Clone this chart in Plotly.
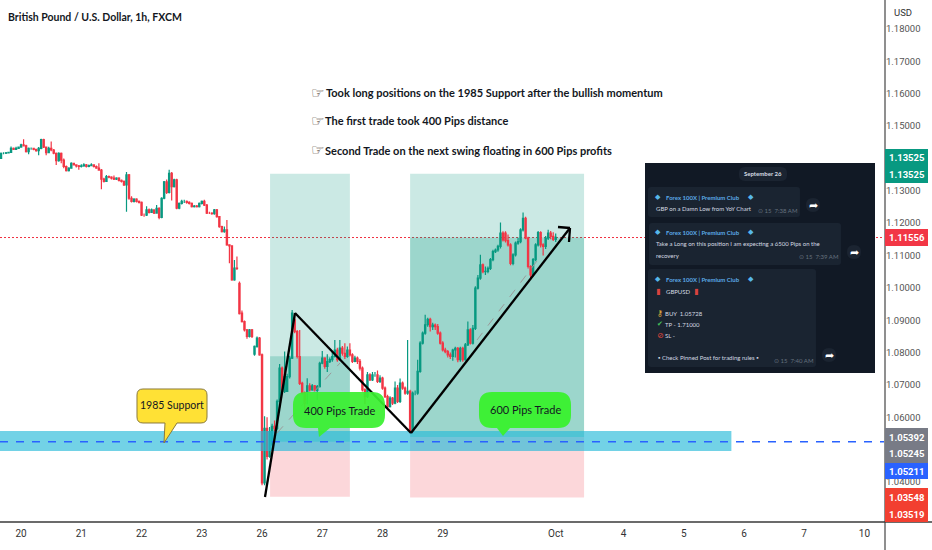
import plotly.graph_objects as go

# hourly bars, 0 = midnight of the 20th
bar_index = list(range(-8, 214))

opens = [
    1.1400, 1.1416, 1.1416, 1.1417, 1.1419, 1.1431, 1.1428, 1.1431, 1.1435, 1.1442,
    1.1439, 1.1421, 1.1431, 1.1431, 1.1428, 1.1424, 1.1431, 1.1458, 1.1435, 1.1418,
    1.1431, 1.1426, 1.1416, 1.1393, 1.1416, 1.1395, 1.1375, 1.1362, 1.1370, 1.1385,
    1.1380, 1.1377, 1.1375, 1.1377, 1.1380, 1.1375, 1.1378, 1.1380, 1.1375, 1.1370,
    1.1364, 1.1336, 1.1329, 1.1344, 1.1342, 1.1339, 1.1336, 1.1339, 1.1332, 1.1329,
    1.1318, 1.1349, 1.1277, 1.1267, 1.1274, 1.1267, 1.1264, 1.1225, 1.1225, 1.1241,
    1.1233, 1.1241, 1.1231, 1.1246, 1.1218, 1.1277, 1.1328, 1.1295, 1.1354, 1.1313,
    1.1334, 1.1246, 1.1261, 1.1267, 1.1267, 1.1264, 1.1261, 1.1251, 1.1253, 1.1251,
    1.1261, 1.1267, 1.1256, 1.1231, 1.1231, 1.1229, 1.1241, 1.1220, 1.1189, 1.1174,
    1.1179, 1.1133, 1.1130, 1.1025, 1.1061, 1.1014, 1.0922, 1.0896, 1.0870, 1.0850,
    1.0870, 1.0795, 1.0819, 1.0845, 1.0793, 1.0397, 1.0566, 1.0479, 1.0515, 1.0572,
    1.0566, 1.0649, 1.0752, 1.0680, 1.0680, 1.0726, 1.0783, 1.0901, 1.0865, 1.0788,
    1.0705, 1.0675, 1.0680, 1.0697, 1.0685, 1.0697, 1.0683, 1.0695, 1.0767, 1.0783,
    1.0757, 1.0772, 1.0778, 1.0788, 1.0808, 1.0778, 1.0814, 1.0798, 1.0788, 1.0808,
    1.0793, 1.0773, 1.0783, 1.0773, 1.0752, 1.0685, 1.0664, 1.0731, 1.0716, 1.0731,
    1.0731, 1.0711, 1.0721, 1.0690, 1.0664, 1.0633, 1.0659, 1.0644, 1.0690, 1.0649,
    1.0706, 1.0690, 1.0675, 1.0680, 1.0560, 1.0675, 1.0675, 1.0742, 1.0829, 1.0860,
    1.0886, 1.0903, 1.0880, 1.0885, 1.0880, 1.0860, 1.0829, 1.0808, 1.0803, 1.0793,
    1.0788, 1.0808, 1.0813, 1.0778, 1.0813, 1.0778, 1.0824, 1.0870, 1.0829, 1.0875,
    1.0999, 1.1030, 1.1071, 1.1050, 1.1051, 1.1060, 1.1087, 1.1112, 1.1117, 1.1128,
    1.1169, 1.1169, 1.1146, 1.1133, 1.1076, 1.1102, 1.1138, 1.1143, 1.1179, 1.1215,
    1.1154, 1.1066, 1.1040, 1.1087, 1.1133, 1.1171, 1.1133, 1.1128, 1.1154, 1.1169,
    1.1159, 1.1150,
]
highs = [
    1.1418, 1.1419, 1.1420, 1.1421, 1.1437, 1.1434, 1.1436, 1.1437, 1.1445, 1.1459,
    1.1442, 1.1434, 1.1434, 1.1432, 1.1430, 1.1435, 1.1461, 1.1461, 1.1437, 1.1436,
    1.1452, 1.1429, 1.1418, 1.1419, 1.1418, 1.1400, 1.1378, 1.1373, 1.1388, 1.1387,
    1.1382, 1.1380, 1.1382, 1.1385, 1.1383, 1.1381, 1.1385, 1.1382, 1.1378, 1.1385,
    1.1367, 1.1340, 1.1349, 1.1347, 1.1345, 1.1347, 1.1342, 1.1342, 1.1335, 1.1332,
    1.1358, 1.1352, 1.1283, 1.1277, 1.1277, 1.1270, 1.1267, 1.1230, 1.1252, 1.1245,
    1.1245, 1.1243, 1.1256, 1.1249, 1.1280, 1.1330, 1.1335, 1.1365, 1.1358, 1.1337,
    1.1337, 1.1264, 1.1272, 1.1272, 1.1270, 1.1268, 1.1264, 1.1256, 1.1256, 1.1264,
    1.1270, 1.1272, 1.1259, 1.1235, 1.1234, 1.1244, 1.1244, 1.1222, 1.1192, 1.1190,
    1.1210, 1.1135, 1.1132, 1.1086, 1.1097, 1.1020, 1.0930, 1.0899, 1.0873, 1.0873,
    1.0873, 1.0822, 1.0850, 1.0848, 1.0797, 1.0603, 1.0600, 1.0570, 1.0580, 1.0590,
    1.0655, 1.0765, 1.0757, 1.0803, 1.0735, 1.0790, 1.0932, 1.0915, 1.0870, 1.0870,
    1.0710, 1.0680, 1.0721, 1.0705, 1.0703, 1.0700, 1.0700, 1.0772, 1.0805, 1.0786,
    1.0795, 1.0785, 1.0805, 1.0839, 1.0815, 1.0839, 1.0820, 1.0829, 1.0819, 1.0829,
    1.0798, 1.0790, 1.0788, 1.0780, 1.0757, 1.0690, 1.0740, 1.0736, 1.0740, 1.0740,
    1.0745, 1.0730, 1.0725, 1.0695, 1.0670, 1.0665, 1.0663, 1.0711, 1.0700, 1.0720,
    1.0711, 1.0695, 1.0839, 1.0685, 1.0680, 1.0683, 1.0778, 1.0835, 1.0865, 1.0917,
    1.0908, 1.0908, 1.0892, 1.0890, 1.0888, 1.0865, 1.0835, 1.0815, 1.0808, 1.0800,
    1.0812, 1.0818, 1.0817, 1.0818, 1.0818, 1.0830, 1.0896, 1.0875, 1.0885, 1.1005,
    1.1040, 1.1102, 1.1075, 1.1066, 1.1066, 1.1092, 1.1118, 1.1122, 1.1133, 1.1202,
    1.1175, 1.1175, 1.1165, 1.1138, 1.1107, 1.1143, 1.1155, 1.1184, 1.1233, 1.1220,
    1.1158, 1.1070, 1.1092, 1.1138, 1.1176, 1.1175, 1.1138, 1.1160, 1.1180, 1.1176,
    1.1172, 1.1168,
]
lows = [
    1.1398, 1.1413, 1.1414, 1.1415, 1.1418, 1.1426, 1.1426, 1.1429, 1.1433, 1.1437,
    1.1418, 1.1413, 1.1427, 1.1425, 1.1421, 1.1410, 1.1428, 1.1432, 1.1410, 1.1416,
    1.1422, 1.1413, 1.1380, 1.1390, 1.1385, 1.1370, 1.1360, 1.1360, 1.1368, 1.1378,
    1.1372, 1.1365, 1.1372, 1.1374, 1.1372, 1.1373, 1.1376, 1.1372, 1.1368, 1.1362,
    1.1305, 1.1326, 1.1327, 1.1339, 1.1335, 1.1333, 1.1333, 1.1329, 1.1326, 1.1315,
    1.1235, 1.1272, 1.1264, 1.1264, 1.1264, 1.1261, 1.1222, 1.1220, 1.1222, 1.1230,
    1.1231, 1.1228, 1.1229, 1.1212, 1.1215, 1.1274, 1.1290, 1.1292, 1.1270, 1.1310,
    1.1243, 1.1243, 1.1258, 1.1262, 1.1260, 1.1258, 1.1248, 1.1248, 1.1248, 1.1248,
    1.1258, 1.1253, 1.1228, 1.1228, 1.1226, 1.1226, 1.1217, 1.1186, 1.1171, 1.1170,
    1.1130, 1.1076, 1.1022, 1.1022, 1.1055, 1.0918, 1.0893, 1.0865, 1.0843, 1.0847,
    1.0845, 1.0790, 1.0815, 1.0790, 1.0390, 1.0390, 1.0470, 1.0475, 1.0495, 1.0550,
    1.0560, 1.0645, 1.0675, 1.0675, 1.0680, 1.0720, 1.0780, 1.0860, 1.0782, 1.0700,
    1.0670, 1.0620, 1.0640, 1.0680, 1.0682, 1.0680, 1.0654, 1.0692, 1.0764, 1.0750,
    1.0740, 1.0768, 1.0772, 1.0785, 1.0772, 1.0775, 1.0790, 1.0780, 1.0784, 1.0788,
    1.0768, 1.0770, 1.0765, 1.0745, 1.0680, 1.0640, 1.0660, 1.0712, 1.0712, 1.0725,
    1.0706, 1.0706, 1.0685, 1.0660, 1.0628, 1.0630, 1.0638, 1.0640, 1.0644, 1.0644,
    1.0685, 1.0670, 1.0670, 1.0552, 1.0555, 1.0668, 1.0670, 1.0738, 1.0825, 1.0855,
    1.0880, 1.0865, 1.0870, 1.0870, 1.0855, 1.0825, 1.0803, 1.0798, 1.0785, 1.0780,
    1.0775, 1.0785, 1.0770, 1.0772, 1.0772, 1.0775, 1.0820, 1.0825, 1.0825, 1.0870,
    1.0995, 1.1025, 1.1045, 1.1040, 1.1045, 1.1055, 1.1082, 1.1108, 1.1112, 1.1122,
    1.1143, 1.1140, 1.1128, 1.1070, 1.1070, 1.1097, 1.1133, 1.1138, 1.1174, 1.1150,
    1.1060, 1.1030, 1.1035, 1.1082, 1.1128, 1.1125, 1.1100, 1.1120, 1.1148, 1.1150,
    1.1145, 1.1142,
]
closes = [
    1.1416, 1.1416, 1.1417, 1.1419, 1.1431, 1.1428, 1.1431, 1.1435, 1.1442, 1.1439,
    1.1421, 1.1431, 1.1431, 1.1428, 1.1424, 1.1431, 1.1458, 1.1435, 1.1418, 1.1431,
    1.1426, 1.1416, 1.1393, 1.1416, 1.1395, 1.1375, 1.1362, 1.1370, 1.1385, 1.1380,
    1.1377, 1.1375, 1.1377, 1.1380, 1.1375, 1.1378, 1.1380, 1.1375, 1.1370, 1.1364,
    1.1336, 1.1329, 1.1344, 1.1342, 1.1339, 1.1336, 1.1339, 1.1332, 1.1329, 1.1318,
    1.1349, 1.1277, 1.1267, 1.1274, 1.1267, 1.1264, 1.1225, 1.1225, 1.1241, 1.1233,
    1.1241, 1.1231, 1.1246, 1.1218, 1.1277, 1.1328, 1.1295, 1.1354, 1.1313, 1.1334,
    1.1246, 1.1261, 1.1267, 1.1267, 1.1264, 1.1261, 1.1251, 1.1253, 1.1251, 1.1261,
    1.1267, 1.1256, 1.1231, 1.1231, 1.1229, 1.1241, 1.1220, 1.1189, 1.1174, 1.1179,
    1.1133, 1.1130, 1.1025, 1.1061, 1.1060, 1.0920, 1.0896, 1.0870, 1.0850, 1.0870,
    1.0850, 1.0819, 1.0845, 1.0793, 1.0397, 1.0566, 1.0479, 1.0556, 1.0572, 1.0566,
    1.0649, 1.0752, 1.0680, 1.0726, 1.0726, 1.0783, 1.0922, 1.0865, 1.0788, 1.0705,
    1.0675, 1.0644, 1.0697, 1.0685, 1.0697, 1.0683, 1.0695, 1.0767, 1.0783, 1.0757,
    1.0772, 1.0778, 1.0788, 1.0808, 1.0778, 1.0814, 1.0798, 1.0788, 1.0808, 1.0793,
    1.0773, 1.0783, 1.0773, 1.0752, 1.0685, 1.0664, 1.0731, 1.0716, 1.0731, 1.0731,
    1.0711, 1.0721, 1.0690, 1.0664, 1.0633, 1.0659, 1.0644, 1.0690, 1.0649, 1.0706,
    1.0690, 1.0675, 1.0680, 1.0560, 1.0675, 1.0675, 1.0742, 1.0829, 1.0860, 1.0886,
    1.0903, 1.0880, 1.0885, 1.0880, 1.0860, 1.0829, 1.0808, 1.0803, 1.0793, 1.0788,
    1.0808, 1.0813, 1.0778, 1.0813, 1.0778, 1.0824, 1.0870, 1.0829, 1.0875, 1.0999,
    1.1030, 1.1071, 1.1050, 1.1051, 1.1060, 1.1087, 1.1112, 1.1117, 1.1128, 1.1169,
    1.1148, 1.1146, 1.1133, 1.1076, 1.1102, 1.1138, 1.1143, 1.1179, 1.1215, 1.1154,
    1.1066, 1.1040, 1.1087, 1.1133, 1.1171, 1.1133, 1.1128, 1.1154, 1.1169, 1.1159,
    1.1150, 1.1156,
]

day_ticks = [0, 24, 48, 72, 96, 120, 144, 168, 213, 240, 264, 288, 312, 336]
day_labels = ['20', '21', '22', '23', '26', '27', '28', '29', 'Oct', '4', '5', '6', '7', '10']
price_ticks = [1.18, 1.17, 1.16, 1.15, 1.13, 1.12, 1.11, 1.10, 1.09, 1.08, 1.07, 1.06, 1.04]

last_price = 1.11556
support_price = 1.05245
band_low = 1.0496
band_high = 1.0558

notes = [
    'Took long positions on the 1985 Support after the bullish momentum',
    'The first trade took 400 Pips distance',
    'Second Trade on the next swing floating in 600 Pips profits',
]
badge_labels = ['1.13525', '1.13525', '1.11556', '1.05392', '1.05245', '1.05211', '1.03548', '1.03519']

GREEN = '#089981'
RED = '#f23645'
SANS = 'Lato'
SCALE = 'Roboto'
PLOT_W = 885
PLOT_H = 522


def fx(px):
    return px / PLOT_W


def fy(py):
    return 1 - py / PLOT_H


def paper_rect(x0, y0, x1, y1, fill, layer='above'):
    return dict(type='rect', xref='paper', yref='paper', x0=fx(x0), x1=fx(x1), y0=fy(y0), y1=fy(y1),
                fillcolor=fill, line_width=0, layer=layer)


def paper_line(x0, y0, x1, y1, color, width=1, dash='solid'):
    return dict(type='line', xref='paper', yref='paper', x0=fx(x0), x1=fx(x1), y0=fy(y0), y1=fy(y1),
                line=dict(color=color, width=width, dash=dash), layer='above')


def price_rect(x0, x1, y0, y1, fill, layer='below'):
    return dict(type='rect', xref='x', yref='y', x0=x0, x1=x1, y0=y0, y1=y1,
                fillcolor=fill, line_width=0, layer=layer)


def rounded(x0, y0, x1, y1, r, fill, pointer=None, border=None):
    # rounded box, optional pointer going out of the bottom edge
    def p(x, y):
        return f'{fx(x):.5f},{fy(y):.5f}'
    path = f'M {p(x0 + r, y0)} L {p(x1 - r, y0)} Q {p(x1, y0)} {p(x1, y0 + r)} L {p(x1, y1 - r)} Q {p(x1, y1)} {p(x1 - r, y1)} '
    if pointer:
        path += f'L {p(pointer[1], y1)} L {p(pointer[2], pointer[3])} L {p(pointer[0], y1)} '
    path += f'L {p(x0 + r, y1)} Q {p(x0, y1)} {p(x0, y1 - r)} L {p(x0, y0 + r)} Q {p(x0, y0)} {p(x0 + r, y0)} Z'
    return dict(type='path', xref='paper', yref='paper', path=path, fillcolor=fill,
                line=dict(color=border or fill, width=1 if border else 0), layer='above')


fig = go.Figure()

fig.add_trace(go.Candlestick(
    x=bar_index, open=opens, high=highs, low=lows, close=closes,
    increasing=dict(line=dict(color=GREEN, width=1.2), fillcolor=GREEN),
    decreasing=dict(line=dict(color=RED, width=1.2), fillcolor=RED),
    whiskerwidth=0, hoverinfo='skip', showlegend=False,
))

shapes = [
    # first long position
    price_rect(99.2, 131, 1.05245, 1.13525, 'rgba(8,153,129,0.21)'),
    price_rect(99.2, 131, 1.05245, 1.0789, 'rgba(8,153,129,0.24)'),
    price_rect(99.2, 131, 1.03548, 1.05245, 'rgba(242,54,69,0.2)'),
    # second long position
    price_rect(155, 224.3, 1.05392, 1.13525, 'rgba(8,153,129,0.21)'),
    price_rect(155, 224.3, 1.05392, last_price, 'rgba(8,153,129,0.24)'),
    price_rect(155, 224.3, 1.03519, 1.05392, 'rgba(242,54,69,0.2)'),
    # last price
    dict(type='line', xref='paper', yref='y', x0=0, x1=1, y0=last_price, y1=last_price,
         line=dict(color='#f0303f', width=1, dash='2px,2px'), layer='below'),
    # support zone
    price_rect(-8.4, 283, band_low, band_high, 'rgba(38,186,216,0.65)', layer='above'),
    dict(type='line', xref='paper', yref='y', x0=0, x1=1, y0=support_price, y1=support_price,
         line=dict(color='#2962ff', width=1.5, dash='8px,8px'), layer='above'),
    # hand drawn swing
    paper_line(277, 433, 340, 363, '#9a9a9a', 1, 'dash'),
    paper_line(477, 340, 543, 253, '#9a9a9a', 1, 'dash'),
    paper_line(265, 497, 295, 313, 'black', 2.3),
    paper_line(295, 313, 411, 433, 'black', 2.3),
    paper_line(411, 433, 570, 228, 'black', 2.3),
    paper_line(558, 227, 570, 228, 'black', 2.3),
    paper_line(570, 228, 569, 242, 'black', 2.3),
    # callouts
    rounded(137, 389, 207, 423, 6, '#ffe135', pointer=(165, 177, 164, 443), border='#8a7a3c'),
    rounded(293, 392, 385, 428, 13, 'rgba(58,240,48,0.93)', pointer=(318, 330, 319, 437)),
    rounded(479, 392, 571, 428, 13, 'rgba(58,240,48,0.96)', pointer=(497, 510, 503, 436)),
    # telegram panel
    paper_rect(645, 163, 875, 373, '#111925'),
    rounded(739, 167, 787, 181, 6, '#1b2431'),
    rounded(648, 187, 800, 217, 3, '#1a2431'),
    rounded(649, 223, 841, 265, 3, '#1a2431'),
    rounded(648, 269, 816, 367, 3, '#1a2431'),
    rounded(806, 198, 820, 212, 7, '#1b2431'),
    rounded(847, 245, 861, 259, 7, '#1b2431'),
    rounded(822, 348, 836, 362, 7, '#1b2431'),
    # scale frame
    paper_line(885, 0, 885, 550, '#8f8f8f', 2),
    paper_line(0, 522, 932, 522, '#3a3a3a', 1.5),
    # price badges
    paper_rect(885, 149, 928, 183, GREEN),
    paper_rect(885, 229, 928, 246, RED),
    paper_rect(885, 428, 928, 463, '#787b86'),
    paper_rect(885, 463, 928, 479, '#2962ff'),
    paper_rect(885, 488, 928, 522, '#f23f30'),
]

annotations = []


def add_text(px, py, text, size, color='#131722', anchor='left', weight=400, family=SANS):
    annotations.append(dict(xref='paper', yref='paper', x=fx(px), y=fy(py), text=text, showarrow=False,
                            xanchor=anchor, yanchor='middle', align=anchor,
                            font=dict(family=family, size=size, color=color, weight=weight)))


add_text(6, 17, 'British Pound / U.S. Dollar, 1h, FXCM', 10.5, weight=700)
add_text(892, 13, 'USD', 9.5, color='#333333', family=SCALE)

for note, row, start in zip(notes, [93, 121, 150], [324, 323, 323]):
    add_text(309, row, '☞', 15, color='#3a2a1a', family='DejaVu Sans')
    add_text(start, row, note, 11, weight=700)

add_text(172, 405, '1985 Support', 10.5, anchor='center')
add_text(339, 410, '400 Pips Trade', 11, anchor='center')
add_text(525, 409, '600 Pips Trade', 11, anchor='center')

for label, row in zip(badge_labels, [157.5, 174.5, 237.5, 437, 453, 471, 497, 514]):
    add_text(907, row, label, 9.5, color='white', anchor='center', weight=700, family=SCALE)

# panel text
CHAT = '#d4dae1'
NAME = '#5aa9e6'
GEM = '#57b7ea'
STAMP = '#66717e'
add_text(763, 174, 'September 26', 6, color=CHAT, anchor='center', weight=700)
for row in [197, 232, 279]:
    add_text(658, row, '◆', 7, color=GEM, anchor='center', family='DejaVu Sans')
    add_text(664, row, 'Forex 100X | Premium Club', 6, color=NAME, weight=700)
    add_text(751, row, '◆', 7, color=GEM, anchor='center', family='DejaVu Sans')
add_text(654, 208, 'GBP on a Damn Low from YoY Chart', 6, color=CHAT)
add_text(654, 244, 'Take a Long on this position I am expecting a 6500 Pips on the', 6, color=CHAT)
add_text(654, 255, 'recovery', 6, color=CHAT)
add_text(658, 291, '▮', 8, color='#d9433f', anchor='center', family='DejaVu Sans')
add_text(664, 291, 'GBPUSD', 6, color=CHAT)
add_text(696, 291, '▮', 8, color='#d9433f', anchor='center', family='DejaVu Sans')
add_text(663, 313, 'BUY  1.05728', 6, color=CHAT)
add_text(663, 324, 'TP - 1.71000', 6, color=CHAT)
add_text(663, 335, 'SL -', 6, color=CHAT)
add_text(656, 357, '▪ Check Pinned Post for trading rules ▪', 6, color=CHAT)
add_text(655, 313, '⚷', 8, color='#e0b23c', family='DejaVu Sans')
add_text(655, 324, '✔', 7, color='#46c35a', family='DejaVu Sans')
add_text(655, 335, '⊘', 8, color='#e0443c', family='DejaVu Sans')
add_text(756, 210, '⊙ 15  7:38 AM', 6, color=STAMP)
add_text(797, 257, '⊙ 15  7:39 AM', 6, color=STAMP)
add_text(772, 360, '⊙ 15  7:40 AM', 6, color=STAMP)
for cx, cy in [(813, 205), (854, 252), (829, 355)]:
    add_text(cx, cy, '➦', 11, color='white', anchor='center', family='DejaVu Sans')

fig.update_layout(
    width=932,
    height=550,
    autosize=False,
    margin=dict(l=0, r=47, t=0, b=28),
    paper_bgcolor='white',
    plot_bgcolor='white',
    showlegend=False,
    shapes=shapes,
    annotations=annotations,
    hovermode=False,
    xaxis=dict(
        range=[-8.4, 344.2],
        rangeslider=dict(visible=False),
        tickvals=day_ticks,
        ticktext=day_labels,
        ticks='',
        ticklabelstandoff=4,
        showgrid=False,
        zeroline=False,
        tickfont=dict(family=SCALE, size=10, color='#333333'),
    ),
    yaxis=dict(
        side='right',
        range=[1.02765, 1.18896],
        tickvals=price_ticks,
        tickformat='.5f',
        ticks='',
        showgrid=False,
        zeroline=False,
        tickfont=dict(family=SCALE, size=9.5, color='#555555'),
    ),
)

fig.write_html("out.html", config={'displayModeBar': False}, post_script="document.body.style.margin='0';")
